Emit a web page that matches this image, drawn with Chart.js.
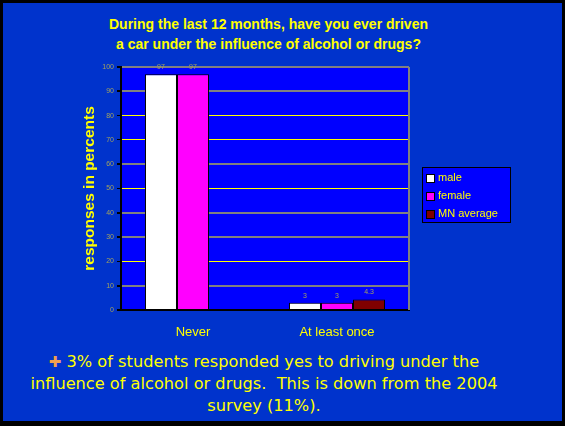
<!DOCTYPE html>
<html>
<head>
<meta charset="utf-8">
<script src="https://cdn.jsdelivr.net/npm/chart.js@4.4.0/dist/chart.umd.min.js"></script>
<style>
    body { margin: 0; width: 565px; height: 426px; background: #000; position: relative; overflow: hidden; font-family: "Liberation Sans", Arial, sans-serif; }
    #panel { position: absolute; left: 3px; top: 3px; width: 559px; height: 418px; background: #0033cc; }
    #titulo { position: absolute; left: 0; top: 14px; width: 537px; text-align: center; color: #ffff00; font-weight: bold; font-size: 14px; line-height: 20px; }
    #wrap { position: absolute; left: 0; top: 0; width: 565px; height: 345px; }
    #nota { position: absolute; left: 0; top: 351px; width: 528px; text-align: center; color: #ffff00; font-family: "DejaVu Sans", sans-serif; font-size: 16.2px; line-height: 22px; }
    #nota .cruz { color: #f0a050; font-size: 15px; }
</style>
</head>
<body>
<div id="panel"></div>
<div id="titulo">During the last 12 months, have you ever driven<br>a car under the influence of alcohol or drugs?</div>
<div id="wrap"><canvas id="grafico" width="565" height="345"></canvas></div>
<div id="nota"><span class="cruz">✚</span> 3% of students responded yes to driving under the<br>influence of alcohol or drugs.&nbsp; This is down from the 2004<br>survey (11%).</div>
<script>
const categorias = ['Never', 'At least once'];
const male = [97, 3];
const female = [97, 3];
const mnAverage = [null, 4.3];
const lineasAmarillas = [20, 50, 70, 80];

const colorEtiqueta = '#a3a35c';

// fondo del area del grafico y borde derecho gris
const fondoArea = {
    id: 'fondoArea',
    beforeDraw(chart) {
        const { ctx, chartArea: a } = chart;
        ctx.save();
        ctx.fillStyle = '#0000ff';
        ctx.fillRect(a.left, a.top, a.right - a.left, a.bottom - a.top);
        ctx.restore();
    },
    afterDraw(chart) {
        const { ctx, chartArea: a } = chart;
        ctx.save();
        ctx.strokeStyle = '#808080';
        ctx.lineWidth = 2;
        ctx.beginPath();
        ctx.moveTo(a.right, a.top);
        ctx.lineTo(a.right, a.bottom);
        ctx.stroke();
        ctx.restore();
    }
};

// valores encima de cada barra
const etiquetasValor = {
    id: 'etiquetasValor',
    afterDatasetsDraw(chart) {
        const ctx = chart.ctx;
        ctx.save();
        ctx.font = '7px "Liberation Sans", Arial, sans-serif';
        ctx.fillStyle = colorEtiqueta;
        ctx.textAlign = 'center';
        ctx.textBaseline = 'middle';
        chart.data.datasets.forEach((ds, i) => {
            chart.getDatasetMeta(i).data.forEach((bar, j) => {
                const v = ds.data[j];
                if (v === null || v === undefined) return;
                ctx.fillText(String(v), bar.x, bar.y - 7);
            });
        });
        ctx.restore();
    }
};

// leyenda en caja azul a la derecha
const leyendaCaja = {
    id: 'leyendaCaja',
    afterDraw(chart) {
        const ctx = chart.ctx;
        const x = 422, y = 167, w = 88, h = 55;
        ctx.save();
        ctx.fillStyle = '#0000ff';
        ctx.fillRect(x, y, w, h);
        ctx.strokeStyle = '#000';
        ctx.lineWidth = 1;
        ctx.strokeRect(x + 0.5, y + 0.5, w, h);
        ctx.font = '11px "Liberation Sans", Arial, sans-serif';
        ctx.textBaseline = 'middle';
        chart.data.datasets.forEach((ds, i) => {
            const cy = y + 11 + i * 18;
            ctx.fillStyle = ds.backgroundColor;
            ctx.fillRect(x + 4, cy - 4, 8, 8);
            ctx.strokeStyle = '#000';
            ctx.strokeRect(x + 4.5, cy - 3.5, 8, 8);
            ctx.fillStyle = '#ffff00';
            ctx.fillText(ds.label, x + 16, cy);
        });
        ctx.restore();
    }
};

const ctx = document.getElementById('grafico').getContext('2d');
new Chart(ctx, {
    type: 'bar',
    data: {
        labels: categorias,
        datasets: [
            { label: 'male', data: male, backgroundColor: '#ffffff' },
            { label: 'female', data: female, backgroundColor: '#ff00ff' },
            { label: 'MN average', data: mnAverage, backgroundColor: '#800000' }
        ]
    },
    options: {
        responsive: false,
        animation: false,
        layout: { padding: { left: 76, right: 156, top: 67, bottom: 0 } },
        datasets: {
            bar: { borderColor: '#000', borderWidth: 1, barPercentage: 1, categoryPercentage: 0.667 }
        },
        scales: {
            y: {
                min: 0,
                max: 100,
                ticks: { stepSize: 10, color: colorEtiqueta, font: { size: 7 }, padding: 3 },
                grid: {
                    color: c => c.tick.value === 0 ? '#000' : (lineasAmarillas.includes(c.tick.value) ? '#ffff00' : '#808080'),
                    lineWidth: c => lineasAmarillas.includes(c.tick.value) ? 1 : 2,
                    tickColor: '#000',
                    tickLength: 4
                },
                border: { color: '#000', width: 2 },
                title: {
                    display: true,
                    text: 'responses in percents',
                    color: '#ffff00',
                    font: { size: 15.5, weight: 'bold' }
                },
                afterFit(scale) { scale.width = 45; }
            },
            x: {
                grid: { display: false },
                border: { color: '#000', width: 2 },
                ticks: { color: '#ffff00', font: { size: 13 }, padding: 7 },
                afterFit(scale) { scale.height = 35; }
            }
        },
        plugins: {
            legend: { display: false },
            tooltip: { enabled: false }
        }
    },
    plugins: [fondoArea, etiquetasValor, leyendaCaja]
});
</script>
</body>
</html>
